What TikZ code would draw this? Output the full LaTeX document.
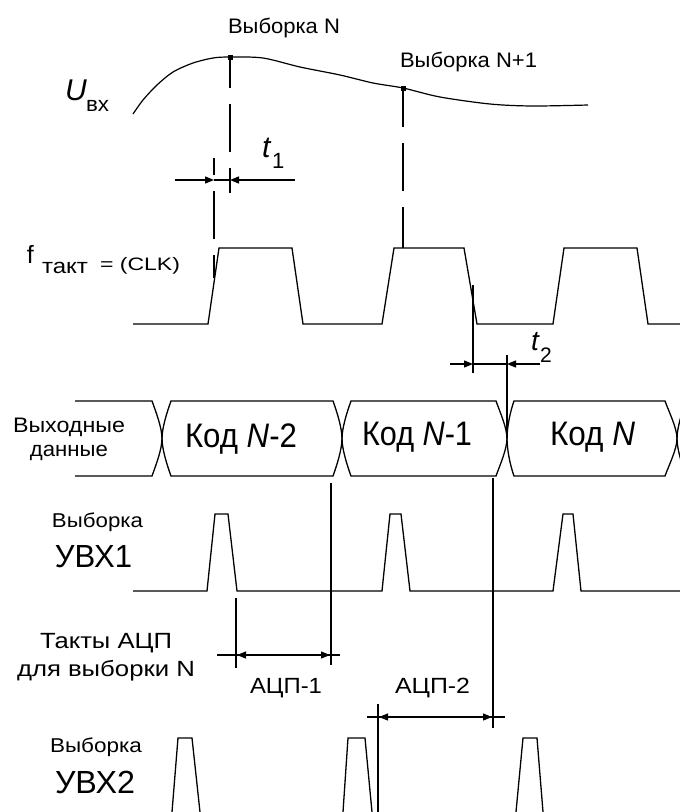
\documentclass[tikz,border=0pt]{standalone}
\usepackage{fontspec}
\setmainfont{Liberation Sans}
\usepackage{graphicx}
\usetikzlibrary{arrows.meta}
\newcommand{\fw}[3]{{\fontsize{#1pt}{#1pt}\selectfont\resizebox{#2pt}{\height}{#3}}}
\newcommand{\buscell}[4]{\draw[sig] (#1,438.5) .. controls (#1,428) and ({#2-4},412) .. (#2,401) -- (#3,401) .. controls ({#3+4},412) and (#4,428) .. (#4,438.5) .. controls (#4,449) and ({#3+4},465) .. (#3,476) -- (#2,476) .. controls ({#2-4},465) and (#1,449) .. (#1,438.5) -- cycle;}
\begin{document}
\begin{tikzpicture}[x=1pt,y=-1pt,
  sig/.style={line width=1.3pt, line join=miter},
  vline/.style={line width=1.3pt},
  dashline/.style={line width=1.3pt, dash pattern=on 48pt off 16pt},
  dimarrow/.style={line width=1.3pt, -{Triangle[length=9pt,width=7pt]}},
  lbl/.style={anchor=base west, inner sep=0pt, outer sep=0pt},
  sqmark/.style={fill=black, minimum size=5pt, inner sep=0pt, outer sep=0pt}]
\useasboundingbox (0,0) rectangle (680,812);
\clip (0,0) rectangle (680,812);

% ---- input signal ----
\draw[line width=1.2pt] plot[smooth] coordinates {(133,114) (143,100) (157,85) (173,72) (193,63) (213,58) (230,57) (263,58) (300,67) (340,75) (373,83) (403,88) (440,97) (490,104) (532,106) (588,105)};
\node[sqmark] (mN) at (230,57) {};
\node[sqmark] (mN1) at (403,88) {};
\node[lbl] (sN) at (228,33) {\fw{21}{112}{Выборка N}};
\node[lbl] (sN1) at (400,67) {\fw{21}{137}{Выборка N+1}};
\node[lbl] (U) at (65,100) {\fontsize{30pt}{30pt}\selectfont\itshape U};
\node[lbl] (Ubx) at (86,111) {\fw{21}{23}{вх}};

% ---- sample lines ----
\coordinate (dN) at (230,193);
\draw[dashline, dash phase=17pt] (mN.center) -- (dN);
\coordinate (eTop) at (214,158);
\coordinate (eBot) at (214,278);
\draw[dashline, dash phase=31pt] (eTop) -- (eBot);
\coordinate (dN1) at (403,248);
\draw[dashline, dash phase=9pt] (mN1.center) -- (dN1);

% ---- t1 ----
\coordinate (t1L) at (175,180);
\coordinate (t1A) at (214,180);
\coordinate (t1B) at (230,180);
\coordinate (t1R) at (295,180);
\draw[dimarrow] (t1L) -- (t1A);
\draw[dimarrow] (t1R) -- (t1B);
\draw[vline] (t1A) -- (t1B);
\node[lbl] (t1t) at (262,157) {\fontsize{30pt}{30pt}\selectfont\itshape t};
\node[lbl] (t1s) at (272,168) {\fontsize{22pt}{22pt}\selectfont 1};

% ---- clock ----
\draw[sig] (133,324) -- (208,324) -- (219,248) -- (292,248) -- (303,324) -- (382,324) -- (394,248) -- (464,248) -- (477,324) -- (553,324) -- (564,248) -- (637,248) -- (648,324) -- (680,324);
\node[lbl] (f) at (27,263) {\fontsize{25pt}{25pt}\selectfont f};
\node[lbl] (takt) at (42,273) {\fw{21}{46}{такт}};
\node[lbl] (clk) at (100,270) {\fw{18}{80}{= (CLK)}};

% ---- t2 ----
\coordinate (t2top) at (473,285);
\coordinate (t2bot) at (473,373);
\draw[vline] (t2top) -- (t2bot);
\coordinate (t2top2) at (507,355);
\coordinate (t2bot2) at (507,438);
\draw[vline] (t2top2) -- (t2bot2);
\coordinate (t2L) at (450,364);
\coordinate (t2A) at (473,364);
\coordinate (t2B) at (507,364);
\coordinate (t2R) at (540,364);
\draw[dimarrow] (t2L) -- (t2A);
\draw[dimarrow] (t2R) -- (t2B);
\draw[vline] (t2A) -- (t2B);
\node[lbl] (t2t) at (531,350) {\fontsize{28pt}{28pt}\selectfont\itshape t};
\node[lbl] (t2s) at (540,362) {\fontsize{21pt}{21pt}\selectfont 2};

% ---- data bus ----
\draw[sig] (75,401) -- (152,401) .. controls (156,412) and (162,428) .. (162,438.5) .. controls (162,449) and (156,465) .. (152,476) -- (75,476);
\buscell{162}{171}{333}{342}
\buscell{342}{351}{496}{507}
\buscell{507}{514}{665}{677}
\buscell{677}{686}{760}{770}
\node[lbl] (out1) at (13,432) {\fw{21}{112}{Выходные}};
\node[lbl] (out2) at (30,456) {\fw{21}{78}{данные}};
\node[lbl] (k2) at (185,447) {\fw{34}{112}{Код \textit{N}-2}};
\node[lbl] (k1) at (362,445) {\fw{34}{110}{Код \textit{N}-1}};
\node[lbl] (k0) at (550,445) {\fw{34}{85}{Код \textit{N}}};

% ---- UVX1 ----
\draw[sig] (133,591) -- (207,591) -- (215,514) -- (228,514) -- (237,591) -- (382,591) -- (390,514) -- (401,514) -- (410,591) -- (553,591) -- (563,514) -- (573,514) -- (581,591) -- (680,591);
\node[lbl] (v1a) at (52,527) {\fw{20}{91}{Выборка}};
\node[lbl] (v1b) at (55,567) {\fw{32}{77}{УВХ1}};

% ---- ADC lines ----
\coordinate (c1top) at (331,483);
\coordinate (c1bot) at (331,665);
\draw[vline] (c1top) -- (c1bot);
\coordinate (c0top) at (236,598);
\coordinate (c0bot) at (236,668);
\draw[vline] (c0top) -- (c0bot);
\coordinate (c2top) at (493,478);
\coordinate (c2bot) at (493,728);
\draw[vline] (c2top) -- (c2bot);
\coordinate (c3top) at (378,704);
\coordinate (c3bot) at (378,812);
\draw[vline] (c3top) -- (c3bot);

\coordinate (a1L) at (217,655);
\coordinate (a1A) at (237,655);
\coordinate (a1B) at (330,655);
\coordinate (a1R) at (340,655);
\draw[vline] (a1L) -- (a1R);
\coordinate (a1m) at (283,655);
\draw[dimarrow] (a1m) -- (a1A);
\draw[dimarrow] (a1m) -- (a1B);
\node[lbl] (a1) at (250,693) {\fw{22}{72}{АЦП-1}};

\coordinate (a2L) at (367,717);
\coordinate (a2A) at (379,717);
\coordinate (a2B) at (492,717);
\coordinate (a2R) at (505,717);
\draw[vline] (a2L) -- (a2R);
\coordinate (a2m) at (435,717);
\draw[dimarrow] (a2m) -- (a2A);
\draw[dimarrow] (a2m) -- (a2B);
\node[lbl] (a2) at (395,693) {\fw{22}{75}{АЦП-2}};

\node[lbl] (tk1) at (40,648) {\fw{22}{132}{Такты АЦП}};
\node[lbl] (tk2) at (17,676) {\fw{22}{178}{для выборки N}};

% ---- UVX2 ----
\draw[sig] (172,812) -- (178,738) -- (192,738) -- (200,812);
\draw[sig] (343,812) -- (348,738) -- (365,738) -- (372,812);
\draw[sig] (516,812) -- (523,738) -- (537,738) -- (543,812);
\node[lbl] (v2a) at (50,752) {\fw{20}{92}{Выборка}};
\node[lbl] (v2b) at (55,793) {\fw{32}{80}{УВХ2}};
\end{tikzpicture}
\end{document}
